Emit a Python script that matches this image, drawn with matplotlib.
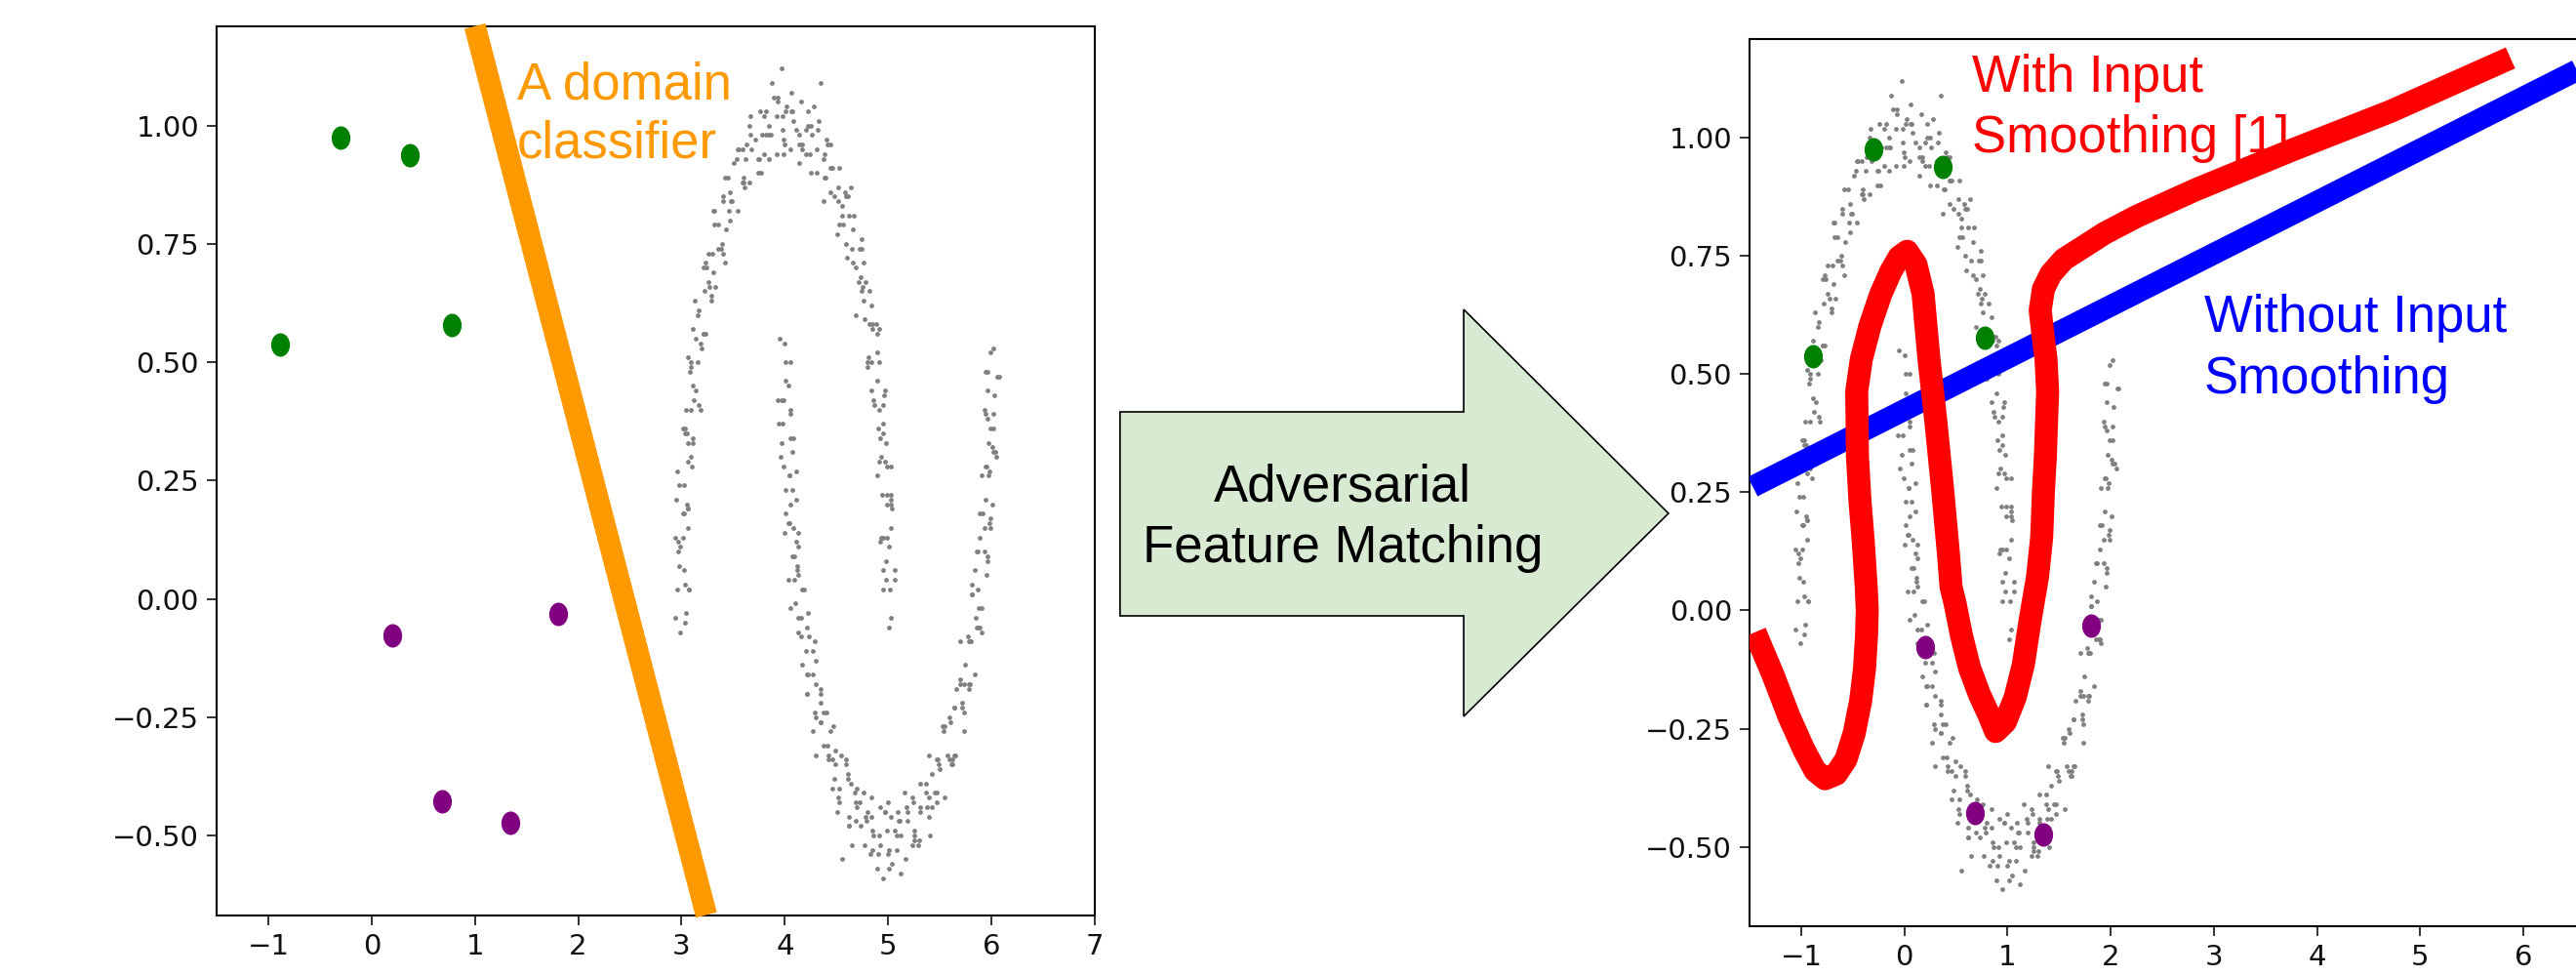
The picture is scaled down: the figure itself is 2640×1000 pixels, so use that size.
import matplotlib
matplotlib.use('Agg')
import matplotlib.pyplot as plt
from matplotlib.path import Path
from matplotlib.patches import Polygon

plt.rcParams['font.family'] = ['DejaVu Sans']

upper_moon = [
    (1.03, -0.04), (0.95, 0.02), (1.01, 0.11), (1.06, 0.04), (0.98, 0.04), (0.93, 0.13),
    (1.03, 0.15), (0.99, 0.20), (0.95, 0.13), (1.03, 0.21), (0.91, 0.29), (0.99, 0.22),
    (1.03, 0.28), (0.95, 0.37), (0.90, 0.36), (0.97, 0.29), (0.95, 0.35), (0.87, 0.41),
    (0.91, 0.50), (0.96, 0.43), (0.86, 0.42), (0.81, 0.51), (0.89, 0.52), (0.85, 0.57),
    (0.80, 0.50), (0.88, 0.58), (0.74, 0.65), (0.82, 0.58), (0.84, 0.62), (0.76, 0.71),
    (0.69, 0.70), (0.76, 0.63), (0.73, 0.68), (0.65, 0.74), (0.67, 0.81), (0.72, 0.74),
    (0.60, 0.72), (0.55, 0.81), (0.62, 0.81), (0.58, 0.86), (0.51, 0.77), (0.59, 0.85),
    (0.44, 0.91), (0.52, 0.84), (0.52, 0.87), (0.44, 0.96), (0.37, 0.93), (0.44, 0.86),
    (0.39, 0.89), (0.31, 0.95), (0.33, 1.01), (0.38, 0.94), (0.25, 0.90), (0.20, 0.99),
    (0.26, 0.98), (0.22, 1.03), (0.14, 0.92), (0.22, 1.00), (0.06, 1.03), (0.14, 0.96),
    (0.14, 0.98), (0.06, 1.07), (-0.02, 1.02), (0.05, 0.95), (0.00, 0.96), (-0.08, 1.02),
    (-0.07, 1.06), (-0.02, 0.99), (-0.15, 0.93), (-0.20, 1.02), (-0.14, 0.98), (-0.18, 1.03),
    (-0.26, 0.90), (-0.18, 0.98), (-0.34, 1.00), (-0.26, 0.93), (-0.25, 0.93), (-0.33, 1.02),
    (-0.41, 0.95), (-0.34, 0.88), (-0.39, 0.87), (-0.47, 0.93), (-0.45, 0.95), (-0.40, 0.88),
    (-0.53, 0.80), (-0.58, 0.89), (-0.51, 0.84), (-0.55, 0.89), (-0.62, 0.74), (-0.54, 0.82),
    (-0.69, 0.82), (-0.61, 0.75), (-0.60, 0.73), (-0.68, 0.82), (-0.74, 0.73), (-0.67, 0.66),
    (-0.71, 0.64), (-0.79, 0.70), (-0.76, 0.70), (-0.71, 0.63), (-0.82, 0.54), (-0.87, 0.63),
    (-0.79, 0.56), (-0.83, 0.61), (-0.89, 0.45), (-0.81, 0.53), (-0.94, 0.51), (-0.86, 0.44),
    (-0.83, 0.41), (-0.91, 0.50), (-0.96, 0.40), (-0.89, 0.33), (-0.91, 0.30), (-0.99, 0.36),
    (-0.95, 0.35), (-0.90, 0.28), (-0.99, 0.18), (-1.04, 0.27), (-0.94, 0.19), (-0.98, 0.24),
    (-1.02, 0.07), (-0.94, 0.15), (-1.06, 0.13), (-0.98, 0.06), (-0.93, 0.02), (-1.01, 0.11),
    (-1.04, 0.02), (-0.97, -0.05), (-0.03, 1.12), (0.35, 1.09), (-0.13, 1.09), (1.01, -0.06),
    (-1.01, -0.07), (-0.96, -0.03),
    (0.98, 0.08), (1.06, 0.06), (0.95, 0.06), (1.02, 0.02), (1.03, 0.20), (0.92, 0.12),
    (0.99, 0.13), (1.04, 0.19), (0.94, 0.22), (0.99, 0.28), (1.03, 0.22), (0.93, 0.30),
    (0.98, 0.33), (0.89, 0.26), (0.95, 0.41), (0.92, 0.34), (0.89, 0.46), (0.97, 0.44),
    (0.84, 0.44), (0.91, 0.40), (0.91, 0.57), (0.80, 0.49), (0.84, 0.50), (0.89, 0.56),
    (0.77, 0.59), (0.82, 0.65), (0.85, 0.58), (0.75, 0.66), (0.78, 0.67), (0.69, 0.60),
    (0.74, 0.74), (0.71, 0.67), (0.66, 0.78), (0.74, 0.76), (0.59, 0.75), (0.66, 0.71),
    (0.64, 0.87), (0.53, 0.79), (0.56, 0.79), (0.61, 0.85), (0.48, 0.85), (0.53, 0.91),
    (0.55, 0.83), (0.45, 0.91), (0.46, 0.91), (0.37, 0.84), (0.41, 0.96), (0.38, 0.89),
    (0.32, 0.99), (0.40, 0.97), (0.24, 0.94), (0.31, 0.90), (0.28, 1.04), (0.17, 0.96),
    (0.20, 0.94), (0.25, 1.00), (0.11, 0.99), (0.16, 1.05), (0.17, 0.95), (0.07, 1.03),
    (0.08, 1.01), (-0.01, 0.94), (0.02, 1.04), (-0.01, 0.97), (-0.07, 1.05), (0.01, 1.03),
    (-0.15, 0.98), (-0.08, 0.94), (-0.11, 1.06), (-0.22, 0.98), (-0.20, 0.94), (-0.15, 1.00),
    (-0.29, 0.97), (-0.24, 1.03), (-0.23, 0.90), (-0.33, 0.98), (-0.32, 0.95), (-0.41, 0.88),
    (-0.37, 0.96), (-0.40, 0.89), (-0.46, 0.95), (-0.38, 0.93), (-0.53, 0.86), (-0.46, 0.82),
    (-0.49, 0.92), (-0.60, 0.84), (-0.57, 0.78), (-0.52, 0.84), (-0.65, 0.79), (-0.60, 0.85),
    (-0.58, 0.71), (-0.68, 0.79), (-0.65, 0.74), (-0.74, 0.67), (-0.70, 0.73), (-0.73, 0.66),
    (-0.77, 0.71), (-0.69, 0.69), (-0.84, 0.60), (-0.77, 0.56), (-0.78, 0.65), (-0.89, 0.57),
    (-0.84, 0.50), (-0.79, 0.56), (-0.91, 0.49), (-0.86, 0.55), (-0.82, 0.40), (-0.92, 0.48),
    (-0.88, 0.42), (-0.97, 0.35), (-0.91, 0.40), (-0.94, 0.33), (-0.97, 0.36), (-0.89, 0.34),
    (-1.02, 0.24), (-0.95, 0.20), (-0.94, 0.29), (-1.05, 0.21), (-0.99, 0.13), (-0.94, 0.19),
    (-1.03, 0.12), (-0.98, 0.18), (-0.93, 0.02), (-1.03, 0.10), (-0.97, 0.03), (-1.06, -0.04),
]
lower_moon = [
    (0.00, 0.54), (0.05, 0.50), (-0.07, 0.42), (0.01, 0.50), (0.05, 0.34), (-0.03, 0.42),
    (-0.01, 0.42), (0.08, 0.34), (0.04, 0.26), (-0.03, 0.33), (-0.01, 0.28), (0.05, 0.20),
    (0.11, 0.21), (0.04, 0.26), (0.00, 0.14), (0.09, 0.09), (0.08, 0.15), (0.13, 0.11),
    (0.03, 0.04), (0.11, 0.12), (0.16, -0.04), (0.09, 0.04), (0.13, 0.05), (0.22, -0.03),
    (0.20, -0.11), (0.13, -0.04), (0.16, -0.08), (0.22, -0.16), (0.30, -0.13), (0.23, -0.08),
    (0.21, -0.20), (0.30, -0.25), (0.30, -0.18), (0.35, -0.22), (0.27, -0.28), (0.35, -0.20),
    (0.42, -0.34), (0.35, -0.26), (0.40, -0.24), (0.49, -0.32), (0.48, -0.38), (0.41, -0.31),
    (0.46, -0.34), (0.52, -0.42), (0.61, -0.38), (0.54, -0.33), (0.53, -0.43), (0.62, -0.48),
    (0.64, -0.39), (0.69, -0.43), (0.62, -0.48), (0.70, -0.40), (0.77, -0.52), (0.70, -0.44),
    (0.76, -0.41), (0.85, -0.49), (0.85, -0.53), (0.78, -0.46), (0.84, -0.46), (0.90, -0.54),
    (0.99, -0.49), (0.92, -0.44), (0.92, -0.52), (1.01, -0.57), (1.03, -0.46), (1.08, -0.50),
    (1.01, -0.53), (1.09, -0.45), (1.17, -0.55), (1.10, -0.47), (1.16, -0.41), (1.25, -0.49),
    (1.25, -0.51), (1.18, -0.44), (1.24, -0.43), (1.30, -0.51), (1.38, -0.44), (1.31, -0.39),
    (1.31, -0.45), (1.40, -0.50), (1.42, -0.37), (1.47, -0.41), (1.39, -0.42), (1.47, -0.34),
    (1.55, -0.42), (1.48, -0.34), (1.53, -0.27), (1.62, -0.35), (1.61, -0.35), (1.54, -0.28),
    (1.59, -0.25), (1.65, -0.33), (1.73, -0.24), (1.66, -0.19), (1.64, -0.23), (1.73, -0.28),
    (1.74, -0.14), (1.79, -0.18), (1.70, -0.17), (1.78, -0.09), (1.84, -0.16), (1.77, -0.08),
    (1.81, 0.01), (1.90, -0.07), (1.88, -0.06), (1.81, 0.01), (1.84, 0.06), (1.90, -0.02),
    (1.96, 0.08), (1.89, 0.13), (1.86, 0.10), (1.95, 0.05), (1.94, 0.21), (1.99, 0.17),
    (1.89, 0.18), (1.97, 0.26), (2.01, 0.20), (1.94, 0.28), (1.96, 0.38), (2.05, 0.30),
    (2.01, 0.32), (1.94, 0.39), (1.96, 0.44), (2.02, 0.36), (2.06, 0.47), (1.99, 0.52),
    (1.94, 0.48), (2.03, 0.43), (0.95, -0.59), (1.12, -0.58), (0.55, -0.55),
    (-0.05, 0.55), (0.03, 0.45), (0.01, 0.46), (-0.06, 0.37), (0.05, 0.40), (-0.02, 0.37),
    (0.07, 0.31), (0.05, 0.39), (0.01, 0.23), (-0.04, 0.30), (0.11, 0.27), (0.03, 0.16),
    (0.01, 0.18), (0.07, 0.23), (0.07, 0.09), (0.13, 0.14), (0.04, 0.16), (0.12, 0.06),
    (0.12, 0.07), (0.05, -0.02), (0.17, 0.02), (0.10, -0.01), (0.21, -0.06), (0.19, 0.02),
    (0.17, -0.14), (0.13, -0.07), (0.29, -0.09), (0.21, -0.20), (0.21, -0.16), (0.27, -0.11),
    (0.29, -0.24), (0.35, -0.19), (0.27, -0.16), (0.35, -0.26), (0.37, -0.24), (0.30, -0.33),
    (0.44, -0.28), (0.37, -0.31), (0.49, -0.35), (0.47, -0.27), (0.46, -0.40), (0.42, -0.33),
    (0.59, -0.34), (0.51, -0.45), (0.53, -0.40), (0.59, -0.35), (0.62, -0.46), (0.68, -0.41),
    (0.61, -0.37), (0.69, -0.47), (0.72, -0.43), (0.65, -0.52), (0.80, -0.45), (0.73, -0.48),
    (0.86, -0.50), (0.84, -0.42), (0.83, -0.54), (0.79, -0.47), (0.97, -0.45), (0.89, -0.57),
    (0.91, -0.50), (0.97, -0.45), (1.00, -0.54), (1.06, -0.49), (1.00, -0.43), (1.08, -0.53),
    (1.11, -0.47), (1.04, -0.56), (1.19, -0.47), (1.12, -0.50), (1.25, -0.50), (1.23, -0.42),
    (1.23, -0.52), (1.19, -0.45), (1.37, -0.41), (1.29, -0.52), (1.31, -0.44), (1.37, -0.39),
    (1.39, -0.46), (1.45, -0.41), (1.39, -0.33), (1.47, -0.43), (1.49, -0.35), (1.42, -0.44),
    (1.57, -0.33), (1.50, -0.36), (1.62, -0.34), (1.60, -0.26), (1.59, -0.34), (1.55, -0.27),
    (1.72, -0.22), (1.64, -0.33), (1.64, -0.23), (1.70, -0.18), (1.72, -0.23), (1.78, -0.18),
    (1.70, -0.09), (1.78, -0.19), (1.80, -0.09), (1.73, -0.18), (1.86, -0.06), (1.79, -0.09),
    (1.89, -0.06), (1.87, 0.02), (1.85, -0.04), (1.81, 0.03), (1.96, 0.09), (1.88, -0.02),
    (1.87, 0.10), (1.93, 0.15), (1.93, 0.10), (1.99, 0.15), (1.90, 0.26), (1.98, 0.16),
    (1.98, 0.27), (1.91, 0.18), (2.02, 0.31), (1.95, 0.28), (2.04, 0.31), (2.02, 0.39),
    (1.97, 0.33), (1.93, 0.40), (2.07, 0.47), (1.99, 0.36), (1.96, 0.48), (2.02, 0.53),
]
moon_shift = 4.0  # unaligned target moons sit 4 units to the right

green_x = [-0.30, 0.37, -0.89, 0.78]
green_y = [0.975, 0.938, 0.537, 0.578]
purple_x = [0.20, 1.81, 0.68, 1.345]
purple_y = [-0.078, -0.032, -0.428, -0.474]

classifier_x = [1.00, 3.24]
classifier_y = [1.21, -0.668]

plain_x = [-1.47, 7.0]
plain_y = [0.262, 1.196]

smooth_x = [-1.448, -1.274, -1.117, -0.975, -0.865, -0.77, -0.66, -0.566, -0.487,
            -0.424, -0.386, -0.367, -0.36, -0.37, -0.40, -0.43, -0.455, -0.462,
            -0.417, -0.335, -0.228, -0.13, -0.05, 0.027, 0.112, 0.181, 0.238, 0.307,
            0.37, 0.427, 0.452, 0.49, 0.553, 0.632, 0.726, 0.821, 0.884, 0.978, 1.073,
            1.152, 1.215, 1.29, 1.33, 1.347, 1.366, 1.388, 1.372, 1.341, 1.316, 1.347,
            1.419, 1.545, 1.718, 1.939, 2.254, 2.821, 3.767, 4.712, 5.873]
smooth_y = [-0.046, -0.136, -0.225, -0.294, -0.339, -0.356, -0.346, -0.315, -0.26,
            -0.191, -0.122, -0.053, 0.0, 0.05, 0.15, 0.23, 0.326, 0.464,
            0.532, 0.601, 0.670, 0.718, 0.748, 0.760, 0.732, 0.670, 0.532, 0.395,
            0.257, 0.119, 0.05, 0.016, -0.053, -0.122, -0.177, -0.222, -0.256, -0.236, -0.184,
            -0.115, -0.025, 0.071, 0.154, 0.25, 0.326, 0.464, 0.532, 0.587, 0.635, 0.68,
            0.712, 0.743, 0.767, 0.798, 0.834, 0.89, 0.975, 1.056, 1.169]

x_ticks = [-1, 0, 1, 2, 3, 4, 5, 6, 7]
x_labels = ['\u22121', '0', '1', '2', '3', '4', '5', '6', '7']
y_ticks = [-0.50, -0.25, 0.00, 0.25, 0.50, 0.75, 1.00]
y_labels = ['\u22120.50', '\u22120.25', '0.00', '0.25', '0.50', '0.75', '1.00']

up_x, up_y = zip(*upper_moon)
lo_x, lo_y = zip(*lower_moon)

circ = Path.unit_circle()
dot = Path(circ.vertices * [0.8, 1.0], circ.codes)

fig = plt.figure(figsize=(26.4, 10), dpi=100)
ax1 = fig.add_axes([0.0841, 0.0625, 0.3409, 0.9107])
ax2 = fig.add_axes([0.6792, 0.051, 0.3405, 0.9095])


def base(ax, dx, nticks):
    ax.scatter([x + dx for x in up_x], up_y, s=12, c='#808080', linewidths=0, zorder=1)
    ax.scatter([x + dx for x in lo_x], lo_y, s=12, c='#808080', linewidths=0, zorder=1)
    ax.scatter(green_x, green_y, s=300, marker=dot, c='#008000', linewidths=0, zorder=2)
    ax.scatter(purple_x, purple_y, s=300, marker=dot, c='#800080', linewidths=0, zorder=2)
    ax.set_xlim(-1.5, 7)
    ax.set_ylim(-0.668, 1.21)
    ax.set_xticks(x_ticks[:nticks], x_labels[:nticks])
    ax.set_yticks(y_ticks, y_labels)
    ax.tick_params(labelsize=21, length=7, width=1.2, pad=6, colors='#111111')
    for s in ax.spines.values():
        s.set_linewidth(1.5)


base(ax1, moon_shift, 9)
base(ax2, 0.0, 8)  # the 7 tick falls past the right edge here

ax1.plot(classifier_x, classifier_y, color='#ff9900', lw=16,
         solid_capstyle='butt', clip_on=False, zorder=3)

ax2.plot(plain_x, plain_y, color='#0000ff', lw=16, solid_capstyle='butt', zorder=3)
ax2.plot(smooth_x, smooth_y, color='#ff0000', lw=17, solid_capstyle='butt',
         solid_joinstyle='round', zorder=4)

txt = dict(family=['Liberation Sans', 'DejaVu Sans'], fontsize=38, va='baseline')
fig.text(0.2008, 0.899, 'A domain', color='#ff9900', **txt)
fig.text(0.2008, 0.838, 'classifier', color='#ff9900', **txt)

ax2.text(0.7654, 0.906, 'With Input', color='#ff0000', transform=fig.transFigure,
         zorder=2.5, **txt)
ax2.text(0.7654, 0.844, 'Smoothing [1]', color='#ff0000', transform=fig.transFigure,
         zorder=2.5, **txt)
fig.text(0.8556, 0.660, 'Without Input', color='#0000ff', **txt)
fig.text(0.8556, 0.597, 'Smoothing', color='#0000ff', **txt)

# big block arrow between the panels
arrow = Polygon([(0.4348, 0.578), (0.5682, 0.578), (0.5682, 0.683), (0.6477, 0.474),
                 (0.5682, 0.266), (0.5682, 0.369), (0.4348, 0.369)],
                closed=True, transform=fig.transFigure, facecolor='#d9ead3',
                edgecolor='black', linewidth=1.2)
fig.add_artist(arrow)
fig.text(0.5212, 0.487, 'Adversarial', color='black', ha='center', **txt)
fig.text(0.5212, 0.424, 'Feature Matching', color='black', ha='center', **txt)

fig.savefig('out.png', dpi=100, facecolor='white')
